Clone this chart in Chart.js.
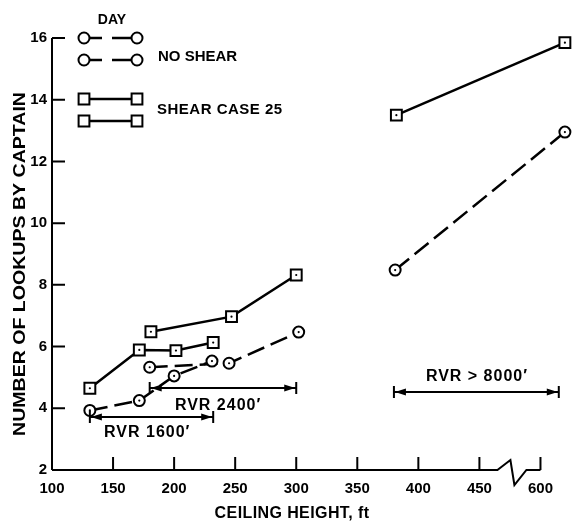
<!DOCTYPE html>
<html>
<head>
<meta charset="utf-8">
<script src="https://cdn.jsdelivr.net/npm/chart.js@4.4.0/dist/chart.umd.min.js"></script>
<style>
  html, body { margin: 0; padding: 0; background: #fff; }
  #wrap { width: 573px; height: 522px; }
</style>
</head>
<body>
<div id="wrap"><canvas id="lookups-chart" width="573" height="522"></canvas></div>
<script>
// lookups by captain vs ceiling height - day, no shear vs shear case 25

// tick labels (ft) - axis is broken between 450 and 600
const xTicks = [100, 150, 200, 250, 300, 350, 400, 450, 600];
const yTicks = [2, 4, 6, 8, 10, 12, 14, 16];

// no shear (circles, dashed)
const noShear1600X = [131, 171.5, 200, 231];
const noShear1600Y = [3.93, 4.25, 5.05, 5.53];
const noShear2400X = [180, 245, 302];
const noShear2400Y = [5.33, 5.46, 6.47];
const noShear8000X = [381, 620];
const noShear8000Y = [8.48, 12.95];

// shear case 25 (squares, solid)
const shear1600X = [131, 171.5, 201.5, 232];
const shear1600Y = [4.65, 5.89, 5.87, 6.13];
const shear2400X = [181, 247, 300];
const shear2400Y = [6.48, 6.97, 8.32];
const shear8000X = [382, 620];
const shear8000Y = [13.5, 15.85];

// RVR bands along ceiling height
const rvrLabels = ["RVR 1600\u2032", "RVR 2400\u2032", "RVR > 8000\u2032"];
const rvrFrom = [131, 180, 380];
const rvrTo = [232, 300, 615];

// 600 ft sits where 500 would be on a plain axis
const toAxis = (ft) => (ft >= 600 ? ft - 100 : ft);

const FONT = "'Liberation Sans', Arial, sans-serif";

function pts(xs, ys) {
  return xs.map((x, i) => ({ x: toAxis(x), y: ys[i] }));
}

const circleStyle = {
  pointStyle: "circle", pointRadius: 5.5, pointHoverRadius: 5.5,
  pointBackgroundColor: "#fff", pointBorderColor: "#000", pointBorderWidth: 2,
  borderColor: "#000", borderWidth: 2.5, borderDash: [18, 7],
  showLine: true, clip: false
};
const squareStyle = {
  pointStyle: "rect", pointRadius: 7.7, pointHoverRadius: 7.7,
  pointBackgroundColor: "#fff", pointBorderColor: "#000", pointBorderWidth: 2,
  borderColor: "#000", borderWidth: 2.5,
  showLine: true, clip: false
};

// annotation placement (axis units)
const arrowY = [3.72, 4.66, 4.53];
const labelX = [178, 236, 448];
const labelY = [3.2, 4.1, 5.02];

function arrow(ctx, x1, x2, y) {
  ctx.beginPath();
  ctx.moveTo(x1, y); ctx.lineTo(x2, y);
  ctx.moveTo(x1, y - 6); ctx.lineTo(x1, y + 6);
  ctx.moveTo(x2, y - 6); ctx.lineTo(x2, y + 6);
  ctx.stroke();
  ctx.beginPath();
  ctx.moveTo(x1 + 1, y); ctx.lineTo(x1 + 12, y - 3.5); ctx.lineTo(x1 + 12, y + 3.5); ctx.closePath();
  ctx.moveTo(x2 - 1, y); ctx.lineTo(x2 - 12, y - 3.5); ctx.lineTo(x2 - 12, y + 3.5); ctx.closePath();
  ctx.fill();
}

function marker(ctx, kind, x, y) {
  ctx.beginPath();
  if (kind === "circle") ctx.arc(x, y, 5.5, 0, Math.PI * 2);
  else ctx.rect(x - 5.4, y - 5.4, 10.8, 10.8);
  ctx.fillStyle = "#fff"; ctx.fill();
  ctx.lineWidth = 2; ctx.stroke();
  ctx.fillStyle = "#000";
}

const decor = {
  id: "decor",
  afterDatasetsDraw(chart) {
    const ctx = chart.ctx;
    // centre dot in every marker
    ctx.save();
    ctx.fillStyle = "#000";
    chart.data.datasets.forEach((ds, i) => {
      chart.getDatasetMeta(i).data.forEach(p => {
        ctx.beginPath(); ctx.arc(p.x, p.y, 1.1, 0, Math.PI * 2); ctx.fill();
      });
    });
    ctx.restore();
  },
  afterDraw(chart) {
    const ctx = chart.ctx, a = chart.chartArea;
    const xs = chart.scales.x, ys = chart.scales.y;
    ctx.save();
    ctx.strokeStyle = "#000"; ctx.fillStyle = "#000";
    ctx.lineWidth = 2;

    // y axis + inward ticks
    ctx.beginPath();
    ctx.moveTo(a.left, a.bottom); ctx.lineTo(a.left, ys.getPixelForValue(16));
    yTicks.slice(1).forEach(v => {
      const py = ys.getPixelForValue(v);
      ctx.moveTo(a.left, py); ctx.lineTo(a.left + 13, py);
    });
    // x axis with the break
    const bx = xs.getPixelForValue(450) + 18;
    const x600 = xs.getPixelForValue(toAxis(600));
    ctx.moveTo(a.left, a.bottom); ctx.lineTo(bx, a.bottom);
    ctx.lineTo(bx + 13, a.bottom - 10); ctx.lineTo(bx + 17, a.bottom + 15);
    ctx.lineTo(bx + 29, a.bottom); ctx.lineTo(x600, a.bottom);
    xTicks.slice(1).forEach(v => {
      const px = xs.getPixelForValue(toAxis(v));
      ctx.moveTo(px, a.bottom); ctx.lineTo(px, a.bottom - 13);
    });
    ctx.stroke();

    // RVR arrows
    ctx.lineWidth = 2;
    ctx.font = "bold 16px " + FONT;
    ctx.letterSpacing = "1px";
    ctx.textAlign = "center"; ctx.textBaseline = "middle";
    rvrLabels.forEach((t, i) => {
      const y = ys.getPixelForValue(arrowY[i]);
      arrow(ctx, xs.getPixelForValue(toAxis(rvrFrom[i])), xs.getPixelForValue(toAxis(rvrTo[i])), y);
      ctx.fillText(t, xs.getPixelForValue(labelX[i]), ys.getPixelForValue(labelY[i]));
    });
    ctx.letterSpacing = "0px";

    // legend
    ctx.font = "bold 14px " + FONT;
    ctx.fillText("DAY", 112, 20);
    const rows = [[38, "circle"], [60, "circle"], [99, "square"], [121, "square"]];
    rows.forEach(([y, kind]) => {
      ctx.beginPath();
      if (kind === "circle") {
        ctx.moveTo(89, y); ctx.lineTo(102, y);
        ctx.moveTo(112, y); ctx.lineTo(132, y);
      } else {
        ctx.moveTo(89, y); ctx.lineTo(132, y);
      }
      ctx.lineWidth = 2.5; ctx.stroke();
      marker(ctx, kind, 84, y);
      marker(ctx, kind, 137, y);
    });
    ctx.textAlign = "left";
    ctx.font = "bold 15px " + FONT;
    ctx.fillText("NO SHEAR", 158, 57);
    ctx.letterSpacing = "0.5px";
    ctx.fillText("SHEAR CASE 25", 157, 110);

    // axis titles
    ctx.font = "bold 16px " + FONT;
    ctx.letterSpacing = "0.4px";
    ctx.textAlign = "center";
    ctx.fillText("CEILING HEIGHT, ft", 292, 514);
    ctx.letterSpacing = "0px";
    ctx.font = "bold 17px " + FONT;
    ctx.translate(20, 264);
    ctx.rotate(-Math.PI / 2);
    ctx.scale(1.15, 1);
    ctx.fillText("NUMBER OF LOOKUPS BY CAPTAIN", 0, 0);
    ctx.restore();
  }
};

new Chart(document.getElementById("lookups-chart"), {
  type: "scatter",
  data: {
    datasets: [
      { label: "No shear, RVR 1600", data: pts(noShear1600X, noShear1600Y), ...circleStyle },
      { label: "No shear, RVR 2400", data: pts(noShear2400X, noShear2400Y), ...circleStyle },
      { label: "No shear, RVR > 8000", data: pts(noShear8000X, noShear8000Y), ...circleStyle },
      { label: "Shear case 25, RVR 1600", data: pts(shear1600X, shear1600Y), ...squareStyle },
      { label: "Shear case 25, RVR 2400", data: pts(shear2400X, shear2400Y), ...squareStyle },
      { label: "Shear case 25, RVR > 8000", data: pts(shear8000X, shear8000Y), ...squareStyle }
    ]
  },
  options: {
    responsive: false,
    animation: false,
    layout: { autoPadding: false, padding: { top: 38, right: 2, left: 0, bottom: 0 } },
    plugins: { legend: { display: false }, tooltip: { enabled: false } },
    scales: {
      x: {
        type: "linear", min: 100, max: 525,
        afterBuildTicks: s => { s.ticks = xTicks.map(v => ({ value: toAxis(v) })); },
        afterFit: s => { s.height = 52; s.paddingLeft = 0; s.paddingRight = 0; },
        ticks: {
          callback: (v, i) => String(xTicks[i]),
          font: { family: FONT, size: 15, weight: "bold" }, color: "#000",
          padding: 10, autoSkip: false, maxRotation: 0
        },
        grid: { display: false, drawTicks: false },
        border: { display: false }
      },
      y: {
        min: 2, max: 16,
        afterBuildTicks: s => { s.ticks = yTicks.map(v => ({ value: v })); },
        afterFit: s => { s.width = 52; },
        ticks: {
          font: { family: FONT, size: 15, weight: "bold" }, color: "#000",
          padding: 5
        },
        grid: { display: false, drawTicks: false },
        border: { display: false }
      }
    }
  },
  plugins: [decor]
});
</script>
</body>
</html>
